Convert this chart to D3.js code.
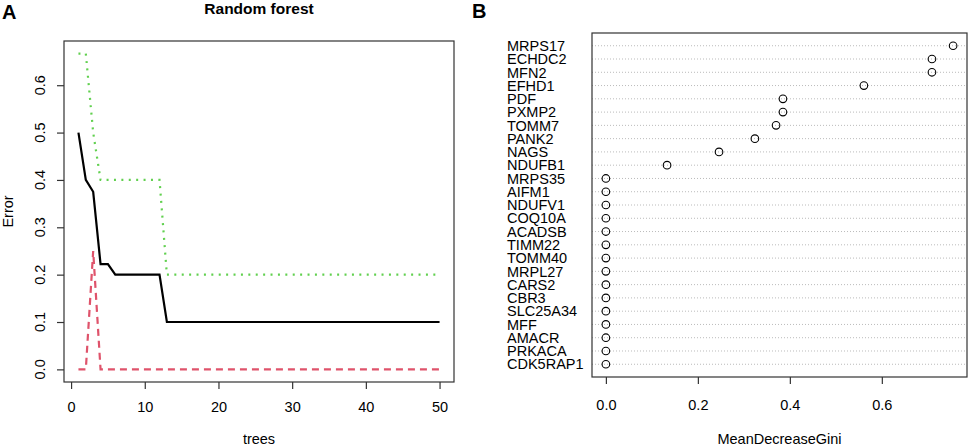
<!DOCTYPE html>
<html lang="en">
<head>
    <meta charset="UTF-8">
    <title>Random forest</title>
    <script src="https://d3js.org/d3.v7.min.js"></script>
    <style>
        body {
            margin: 0;
            background: #fff;
        }
        svg text {
            font-family: "Liberation Sans", Arial, Helvetica, sans-serif;
            fill: #000;
        }
        .box {
            fill: none;
            stroke: #333;
            stroke-width: 1.2px;
        }
        .tick line {
            stroke: #333;
            stroke-width: 1.2px;
        }
        .grid {
            stroke: #bbb;
            stroke-width: 1px;
            stroke-dasharray: 1, 2;
        }
    </style>
</head>
<body>
    <svg id="chart" width="969" height="446"></svg>
    <script>
        // Panel A: error rates by number of trees
        const trees = d3.range(1, 51);
        const oobError = [0.5, 0.4, 0.375, 0.2222, 0.2222, 0.2, 0.2, 0.2, 0.2, 0.2, 0.2, 0.2,
            0.1, 0.1, 0.1, 0.1, 0.1, 0.1, 0.1, 0.1, 0.1, 0.1, 0.1, 0.1, 0.1, 0.1, 0.1, 0.1, 0.1, 0.1,
            0.1, 0.1, 0.1, 0.1, 0.1, 0.1, 0.1, 0.1, 0.1, 0.1, 0.1, 0.1, 0.1, 0.1, 0.1, 0.1, 0.1, 0.1, 0.1, 0.1];
        const class1Error = [0, 0, 0.25, 0, 0, 0, 0, 0, 0, 0, 0, 0,
            0, 0, 0, 0, 0, 0, 0, 0, 0, 0, 0, 0, 0, 0, 0, 0, 0, 0,
            0, 0, 0, 0, 0, 0, 0, 0, 0, 0, 0, 0, 0, 0, 0, 0, 0, 0, 0, 0];
        const class2Error = [0.6667, 0.6667, 0.5, 0.4, 0.4, 0.4, 0.4, 0.4, 0.4, 0.4, 0.4, 0.4,
            0.2, 0.2, 0.2, 0.2, 0.2, 0.2, 0.2, 0.2, 0.2, 0.2, 0.2, 0.2, 0.2, 0.2, 0.2, 0.2, 0.2, 0.2,
            0.2, 0.2, 0.2, 0.2, 0.2, 0.2, 0.2, 0.2, 0.2, 0.2, 0.2, 0.2, 0.2, 0.2, 0.2, 0.2, 0.2, 0.2, 0.2, 0.2];
        const treeTicks = [0, 10, 20, 30, 40, 50];
        const errorTicks = [0.0, 0.1, 0.2, 0.3, 0.4, 0.5, 0.6];

        // Panel B: variable importance
        const genes = ["MRPS17", "ECHDC2", "MFN2", "EFHD1", "PDF", "PXMP2", "TOMM7", "PANK2", "NAGS",
            "NDUFB1", "MRPS35", "AIFM1", "NDUFV1", "COQ10A", "ACADSB", "TIMM22", "TOMM40", "MRPL27",
            "CARS2", "CBR3", "SLC25A34", "MFF", "AMACR", "PRKACA", "CDK5RAP1"];
        const gini = [0.755, 0.709, 0.709, 0.561, 0.385, 0.385, 0.370, 0.324, 0.246,
            0.133, 0, 0, 0, 0, 0, 0, 0, 0, 0, 0, 0, 0, 0, 0, 0];
        const giniTicks = [0.0, 0.2, 0.4, 0.6];

        const svg = d3.select("#chart");

        // ---------- Panel A ----------
        const boxA = { left: 64, right: 454, top: 41, bottom: 382 };
        const xPad = (d3.max(trees) - d3.min(trees)) * 0.04;
        const yMax = d3.max(class2Error);
        const x = d3.scaleLinear()
            .domain([d3.min(trees) - xPad, d3.max(trees) + xPad])
            .range([boxA.left, boxA.right]);
        const y = d3.scaleLinear()
            .domain([-yMax * 0.04, yMax * 1.04])
            .range([boxA.bottom, boxA.top]);

        const gA = svg.append("g");

        const series = [
            { values: oobError, color: "#000000", dash: null },
            { values: class1Error, color: "#DF536B", dash: "7,5" },
            { values: class2Error, color: "#61D04F", dash: "2,5.4" }
        ];
        const line = d3.line().x((d, i) => x(trees[i])).y(d => y(d));
        series.slice().reverse().forEach(s => {
            gA.append("path")
                .datum(s.values)
                .attr("d", line)
                .attr("fill", "none")
                .attr("stroke", s.color)
                .attr("stroke-width", 2.2)
                .attr("stroke-dasharray", s.dash);
        });

        gA.append("rect").attr("class", "box")
            .attr("x", boxA.left).attr("y", boxA.top)
            .attr("width", boxA.right - boxA.left).attr("height", boxA.bottom - boxA.top);

        const xAxisA = gA.append("g")
            .attr("transform", `translate(0,${boxA.bottom})`)
            .call(d3.axisBottom(x).tickValues(treeTicks).tickSize(7).tickPadding(13).tickFormat(d3.format("d")));
        xAxisA.select(".domain").remove();
        xAxisA.selectAll("text").style("font-size", "14.5px").attr("font-family", null);

        // y axis: ticks from d3, labels rotated like base R
        const yAxisA = gA.append("g")
            .attr("transform", `translate(${boxA.left},0)`)
            .call(d3.axisLeft(y).tickValues(errorTicks).tickSize(7).tickFormat(""));
        yAxisA.select(".domain").remove();
        yAxisA.selectAll("text").remove();

        gA.selectAll(".ylab")
            .data(errorTicks)
            .enter()
            .append("text")
            .attr("class", "ylab")
            .attr("transform", d => `translate(${boxA.left - 19.5},${y(d)}) rotate(-90)`)
            .attr("text-anchor", "middle")
            .style("font-size", "14.5px")
            .text(d3.format(".1f"));

        gA.append("text")
            .attr("x", (boxA.left + boxA.right) / 2).attr("y", 13.5)
            .attr("text-anchor", "middle")
            .style("font-size", "15.5px").style("font-weight", "bold")
            .text("Random forest");
        gA.append("text")
            .attr("x", (boxA.left + boxA.right) / 2).attr("y", 444)
            .attr("text-anchor", "middle")
            .style("font-size", "14.5px")
            .text("trees");
        gA.append("text")
            .attr("transform", `translate(13,${(boxA.top + boxA.bottom) / 2}) rotate(-90)`)
            .attr("text-anchor", "middle")
            .style("font-size", "14.5px")
            .text("Error");
        gA.append("text")
            .attr("x", 2).attr("y", 18.5)
            .style("font-size", "20px").style("font-weight", "bold")
            .text("A");

        // ---------- Panel B ----------
        const boxB = { left: 592, right: 967, top: 33, bottom: 377 };
        const gMax = d3.max(gini);
        const xB = d3.scaleLinear()
            .domain([-gMax * 0.04, gMax * 1.04])
            .range([boxB.left, boxB.right]);
        const n = genes.length;
        const yB = d3.scaleLinear()
            .domain([1 - (n - 1) * 0.04, n + (n - 1) * 0.04])
            .range([boxB.bottom, boxB.top]);
        const rowPos = i => yB(n - i);

        const gB = svg.append("g");

        gB.selectAll(".grid")
            .data(genes)
            .enter()
            .append("line")
            .attr("class", "grid")
            .attr("x1", boxB.left).attr("x2", boxB.right)
            .attr("y1", (d, i) => rowPos(i)).attr("y2", (d, i) => rowPos(i));

        gB.selectAll(".pt")
            .data(gini)
            .enter()
            .append("circle")
            .attr("class", "pt")
            .attr("cx", d => xB(d))
            .attr("cy", (d, i) => rowPos(i))
            .attr("r", 3.8)
            .attr("fill", "none")
            .attr("stroke", "#000")
            .attr("stroke-width", 1.1);

        gB.selectAll(".gene")
            .data(genes)
            .enter()
            .append("text")
            .attr("class", "gene")
            .attr("x", 507)
            .attr("y", (d, i) => rowPos(i))
            .attr("dy", "0.36em")
            .style("font-size", "14.5px")
            .text(d => d);

        gB.append("rect").attr("class", "box")
            .attr("x", boxB.left).attr("y", boxB.top)
            .attr("width", boxB.right - boxB.left).attr("height", boxB.bottom - boxB.top);

        const xAxisB = gB.append("g")
            .attr("transform", `translate(0,${boxB.bottom})`)
            .call(d3.axisBottom(xB).tickValues(giniTicks).tickSize(7).tickPadding(15.5).tickFormat(d3.format(".1f")));
        xAxisB.select(".domain").remove();
        xAxisB.selectAll("text").style("font-size", "14.5px").attr("font-family", null);

        gB.append("text")
            .attr("x", (boxB.left + boxB.right) / 2).attr("y", 444)
            .attr("text-anchor", "middle")
            .style("font-size", "14.5px")
            .text("MeanDecreaseGini");
        gB.append("text")
            .attr("x", 472).attr("y", 17.5)
            .style("font-size", "20px").style("font-weight", "bold")
            .text("B");
    </script>
</body>
</html>
